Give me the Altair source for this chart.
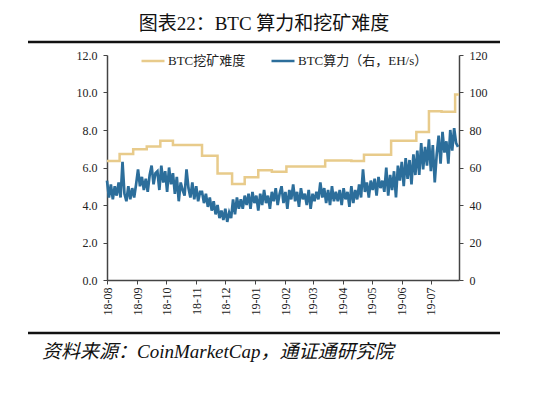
import altair as alt
import pandas as pd

FONT = "Liberation Serif, Noto Sans CJK SC"

TITLE = "图表22：BTC 算力和挖矿难度"
SOURCE = "资料来源：CoinMarketCap，通证通研究院"
SERIES = ["BTC挖矿难度", "BTC算力（右，EH/s）"]
COLORS = ["#E8CB8B", "#2C6E9B"]

MONTH_TICKS = ["2018-08-01", "2018-09-01", "2018-10-01", "2018-11-01", "2018-12-01",
               "2019-01-01", "2019-02-01", "2019-03-01", "2019-04-01", "2019-05-01",
               "2019-06-01", "2019-07-01"]
X_START = "2018-08-01"
X_END = "2019-07-30"

LEFT_TICKS = [0, 2, 4, 6, 8, 10, 12]
RIGHT_TICKS = [0, 20, 40, 60, 80, 100, 120]

# BTC mining difficulty (left axis), step changes
DIFF_DATES = ["2018-08-01", "2018-08-14", "2018-08-28", "2018-09-11", "2018-09-25",
              "2018-10-08", "2018-11-07", "2018-11-23", "2018-12-08", "2018-12-21",
              "2019-01-04", "2019-01-18", "2019-02-02", "2019-03-14", "2019-04-10",
              "2019-04-23", "2019-05-21", "2019-06-16", "2019-06-29", "2019-07-12",
              "2019-07-26", "2019-07-30"]
DIFF_VALUES = [6.35, 6.72, 6.98, 7.12, 7.43,
               7.20, 6.63, 5.68, 5.12, 5.48,
               5.85, 5.78, 6.05, 6.38, 6.35,
               6.68, 7.43, 7.90, 9.00, 8.97,
               9.90, 9.90]

# BTC hash rate (right axis, EH/s), one reading every 2 days from 2018-08-01
HASH_START = "2018-08-01"
HASH_VALUES = [
    53, 44, 51, 43, 50, 45, 52, 44,
    63,
    46, 42, 50, 43, 49, 44,
    51, 59,
    50, 55, 48, 54, 47, 56,
    61,
    51, 57, 58, 48, 61, 52, 58, 47, 60,
    51, 57, 46, 55, 42, 52, 48, 45,
    59,
    49, 44, 52, 43, 50, 42, 47,
    47, 41, 46, 39, 44, 37, 42, 35, 40, 33,
    37, 32, 38, 31, 36, 33,
    43, 35, 44, 38, 43, 38, 45,
    40, 46, 38, 47, 41, 45, 37, 46, 40, 48, 41, 45, 38, 47,
    42, 49, 40, 46, 50, 41, 47, 38, 48, 43,
    51, 42, 47, 39, 49, 43, 46, 40, 48, 38, 46, 42, 47, 43,
    52, 44, 49, 41, 48, 40, 50, 42, 47, 42,
    48, 40, 49, 43, 47, 39, 50, 41, 48, 43, 51, 44,
    59,
    47, 52, 44, 53, 48, 54, 45, 55, 49,
    53, 47, 60, 45, 56, 48, 58, 44, 61,
    53, 63, 50, 65, 54, 64, 51, 67, 56,
    69, 56, 73, 59, 71, 61, 75, 58, 72,
    52,
    67, 77, 62, 79, 68, 74, 62, 80, 69, 81, 73, 71,
]

hash_dates = pd.date_range(HASH_START, periods=len(HASH_VALUES), freq="2D").strftime("%Y-%m-%d")

diff_df = pd.DataFrame({"date": DIFF_DATES, "value": DIFF_VALUES, "series": SERIES[0]})
hash_df = pd.DataFrame({"date": list(hash_dates), "value": HASH_VALUES, "series": SERIES[1]})


def dt(s):
    return alt.DateTime(year=int(s[:4]), month=int(s[5:7]), date=int(s[8:10]), utc=True)


AXIS_COLOR = "#444444"
LABEL_COLOR = "#222222"

x_enc = alt.X(
    "date:T",
    scale=alt.Scale(type="utc", domain=[dt(X_START), dt(X_END)]),
    axis=alt.Axis(values=[dt(s) for s in MONTH_TICKS],
                  labelExpr="utcFormat(datum.value, '%y-%m')",
                  labelAngle=270, labelAlign="right", labelBaseline="middle",
                  tickSize=4, labelPadding=3, grid=False, title=None,
                  domainColor=AXIS_COLOR, domainWidth=1.5, tickColor=AXIS_COLOR,
                  labelFont=FONT, labelFontSize=12, labelColor=LABEL_COLOR),
)

color_enc = alt.Color(
    "series:N",
    scale=alt.Scale(domain=SERIES, range=COLORS),
    legend=alt.Legend(orient="none", legendX=33, legendY=-7, direction="horizontal",
                      title=None, symbolType="stroke", symbolSize=529, symbolStrokeWidth=2.5,
                      labelFont=FONT, labelFontSize=13, labelColor=LABEL_COLOR,
                      columnPadding=20, labelOffset=2, padding=0),
)

diff_line = alt.Chart(diff_df).mark_line(interpolate="step-after", strokeWidth=2.5).encode(
    x=x_enc,
    y=alt.Y("value:Q", scale=alt.Scale(domain=[0, 12]),
            axis=alt.Axis(orient="left", values=LEFT_TICKS, format=".1f", grid=False, title=None,
                          tickSize=4, labelPadding=6, domainColor=AXIS_COLOR, domainWidth=1.5,
                          tickColor=AXIS_COLOR, labelFont=FONT, labelFontSize=12,
                          labelColor=LABEL_COLOR)),
    color=color_enc,
)

hash_line = alt.Chart(hash_df).mark_line(strokeWidth=2.7).encode(
    x=x_enc,
    y=alt.Y("value:Q", scale=alt.Scale(domain=[0, 120]),
            axis=alt.Axis(orient="right", values=RIGHT_TICKS, format="d", grid=False, title=None,
                          tickSize=4, labelPadding=6, domainColor=AXIS_COLOR, domainWidth=1.5,
                          tickColor=AXIS_COLOR, labelFont=FONT, labelFontSize=12,
                          labelColor=LABEL_COLOR)),
    color=color_enc,
)

data = alt.layer(diff_line, hash_line).resolve_scale(y="independent")

title_text = alt.Chart(pd.DataFrame({"t": [TITLE]})).mark_text(
    font=FONT, fontSize=19, color="#111111", align="center", baseline="middle"
).encode(text="t:N", x=alt.value(157), y=alt.value(-31))

top_rule = alt.Chart(pd.DataFrame({"a": [0]})).mark_rule(color="#111111", strokeWidth=2.5).encode(
    x=alt.value(-79), x2=alt.value(393), y=alt.value(-13))

bottom_rule = alt.Chart(pd.DataFrame({"a": [0]})).mark_rule(color="#111111", strokeWidth=2.5).encode(
    x=alt.value(-79), x2=alt.value(393), y=alt.value(278))

source_text = alt.Chart(pd.DataFrame({"t": [SOURCE]})).mark_text(
    font=FONT, fontSize=19, fontStyle="italic", color="#111111", align="left", baseline="middle"
).encode(text="t:N", x=alt.value(-65), y=alt.value(297))

chart = alt.layer(data, title_text, top_rule, bottom_rule, source_text).properties(
    width=352, height=225,
    autosize=alt.AutoSizeParams(type="none"),
    padding={"left": 99, "top": 47, "right": 77, "bottom": 95},
    background="white",
).configure_view(stroke=None)

chart.save("out.html", embed_options={"renderer": "svg", "actions": False})
